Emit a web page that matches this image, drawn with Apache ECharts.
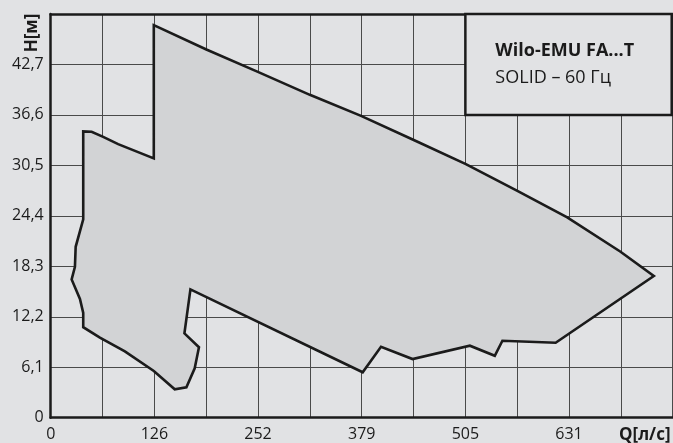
<!DOCTYPE html>
<html>
<head>
<meta charset="utf-8">
<script src="https://cdn.jsdelivr.net/npm/echarts@6/dist/echarts.min.js"></script>
<style>
  html, body { margin: 0; padding: 0; background: #e1e2e4; }
  #chart { width: 673px; height: 443px; }
</style>
</head>
<body>
<div id="chart"></div>
<script>
// Operating envelope: Q (l/s) and H (m) of the boundary, traced clockwise
const outlineQ = [125.5, 189.5, 252.2, 316.2, 377.8, 442.6, 505.4, 568.1, 628.8, 693.7, 734.2,
  614.7, 549.9, 540.6, 510.3, 440.5, 402.1, 379.8,
  170.1, 162.8, 180.5, 175.3, 165.2, 151.0,
  125.5, 90.3, 59.9, 39.6, 39.6, 35.6, 25.5, 29.5, 30.4, 39.6,
  39.6, 49.8, 63.9, 82.1, 125.5];
const outlineH = [47.45, 44.51, 41.81, 39.00, 36.49, 33.54, 30.65, 27.43, 24.21, 20.06, 17.12,
  9.06, 9.30, 7.49, 8.70, 7.09, 8.58, 5.49,
  15.51, 10.20, 8.51, 5.97, 3.67, 3.43,
  5.64, 8.02, 9.69, 10.94, 12.66, 14.35, 16.72, 18.25, 20.66, 23.99,
  34.61, 34.56, 33.95, 33.07, 31.34];

// Axis scales and their printed tick labels
const qTicks = [0, 63.1, 126.2, 189.3, 252.4, 315.5, 378.6, 441.7, 504.8, 567.9, 631.0, 694.1, 757.2];
const qTickLabels = ['0', '', '126', '', '252', '', '379', '', '505', '', '631', '', ''];
const hTicks = [0, 6.1, 12.2, 18.3, 24.4, 30.5, 36.6, 42.7, 48.8];
const hTickLabels = ['0', '6,1', '12,2', '18,3', '24,4', '30,5', '36,6', '42,7', ''];

const titleLines = ['Wilo-EMU FA...T', 'SOLID – 60 Гц'];
const qName = 'Q[л/с]';
const hName = 'H[м]';

const FONT = '"Open Sans", "Noto Sans", sans-serif';
const INK = '#1b1b1b';
const GRIDLINE = '#4a4a4a';
const BG = '#e1e2e4';

const chart = echarts.init(document.getElementById('chart'), null, { renderer: 'canvas' });

function labelFor(ticks, labels, v) {
  let best = 0;
  for (let i = 1; i < ticks.length; i++) {
    if (Math.abs(ticks[i] - v) < Math.abs(ticks[best] - v)) best = i;
  }
  return labels[best];
}

const qMin = qTicks[0], qMax = qTicks[qTicks.length - 1];
const hMin = hTicks[0], hMax = hTicks[hTicks.length - 1];

chart.setOption({
  backgroundColor: BG,
  animation: false,
  grid: { left: 50.7, top: 14, width: 622, height: 403.7 },
  xAxis: [
    {
      type: 'value', min: qMin, max: qMax, interval: 63.1,
      axisLine: { show: true, onZero: false, lineStyle: { color: INK, width: 2.5 } },
      axisTick: { show: false },
      splitLine: { show: true, showMinLine: false, showMaxLine: true, lineStyle: { color: GRIDLINE, width: 1 } },
      axisLabel: {
        showMaxLabel: false,
        margin: 9, fontFamily: FONT, fontSize: 16, color: INK,
        formatter: v => labelFor(qTicks, qTickLabels, v)
      }
    },
    {
      // plain top frame line
      type: 'value', position: 'top', min: qMin, max: qMax, interval: 63.1,
      axisLine: { show: true, onZero: false, lineStyle: { color: INK, width: 2.5 } },
      axisTick: { show: false }, axisLabel: { show: false }, splitLine: { show: false }
    }
  ],
  yAxis: {
    type: 'value', min: hMin, max: hMax, interval: 6.1,
    axisLine: { show: true, onZero: false, lineStyle: { color: INK, width: 2.5 } },
    axisTick: { show: false },
    splitLine: { show: true, showMinLine: false, showMaxLine: false, lineStyle: { color: GRIDLINE, width: 1 } },
    axisLabel: {
      showMaxLabel: false,
      margin: 7, fontFamily: FONT, fontSize: 16, color: INK,
      formatter: v => labelFor(hTicks, hTickLabels, v)
    }
  },
  series: [{
    type: 'custom',
    coordinateSystem: 'cartesian2d',
    data: outlineQ.map((q, i) => [q, outlineH[i]]),
    z: 3,
    renderItem: function (params, api) {
      if (params.dataIndexInside !== 0) return null;
      const pts = [];
      for (let i = 0; i < outlineQ.length; i++) {
        pts.push(api.coord([api.value(0, i), api.value(1, i)]));
      }
      return {
        type: 'polygon',
        shape: { points: pts },
        style: { fill: '#d2d3d5', stroke: INK, lineWidth: 2.6, lineJoin: 'miter' }
      };
    }
  }]
});

// Model caption box in the upper right corner of the plot
const boxCorner = chart.convertToPixel({ gridIndex: 0 }, [qTicks[8], hTicks[6]]);
const topRight = chart.convertToPixel({ gridIndex: 0 }, [qMax, hMax]);

chart.setOption({
  graphic: [
    {
      type: 'rect', z: 10,
      shape: { x: boxCorner[0], y: topRight[1], width: topRight[0] - boxCorner[0] - 1, height: boxCorner[1] - topRight[1] },
      style: { fill: BG, stroke: INK, lineWidth: 2.5 }
    },
    {
      type: 'text', z: 11, x: boxCorner[0] + 30, y: 51,
      style: { text: titleLines[0], fontFamily: FONT, fontSize: 18, fontWeight: 'bold', fill: INK, verticalAlign: 'middle' }
    },
    {
      type: 'text', z: 11, x: boxCorner[0] + 30, y: 77.5,
      style: { text: titleLines[1], fontFamily: FONT, fontSize: 18, fill: INK, verticalAlign: 'middle' }
    },
    {
      type: 'text', z: 11, x: 32, y: 33, rotation: Math.PI / 2,
      style: { text: hName, fontFamily: FONT, fontSize: 17, fontWeight: 'bold', fill: INK, align: 'center', verticalAlign: 'middle' }
    },
    {
      type: 'text', z: 11, x: 619, y: 435,
      style: { text: qName, fontFamily: FONT, fontSize: 17, fontWeight: 'bold', fill: INK, align: 'left', verticalAlign: 'middle' }
    }
  ]
});
</script>
</body>
</html>
